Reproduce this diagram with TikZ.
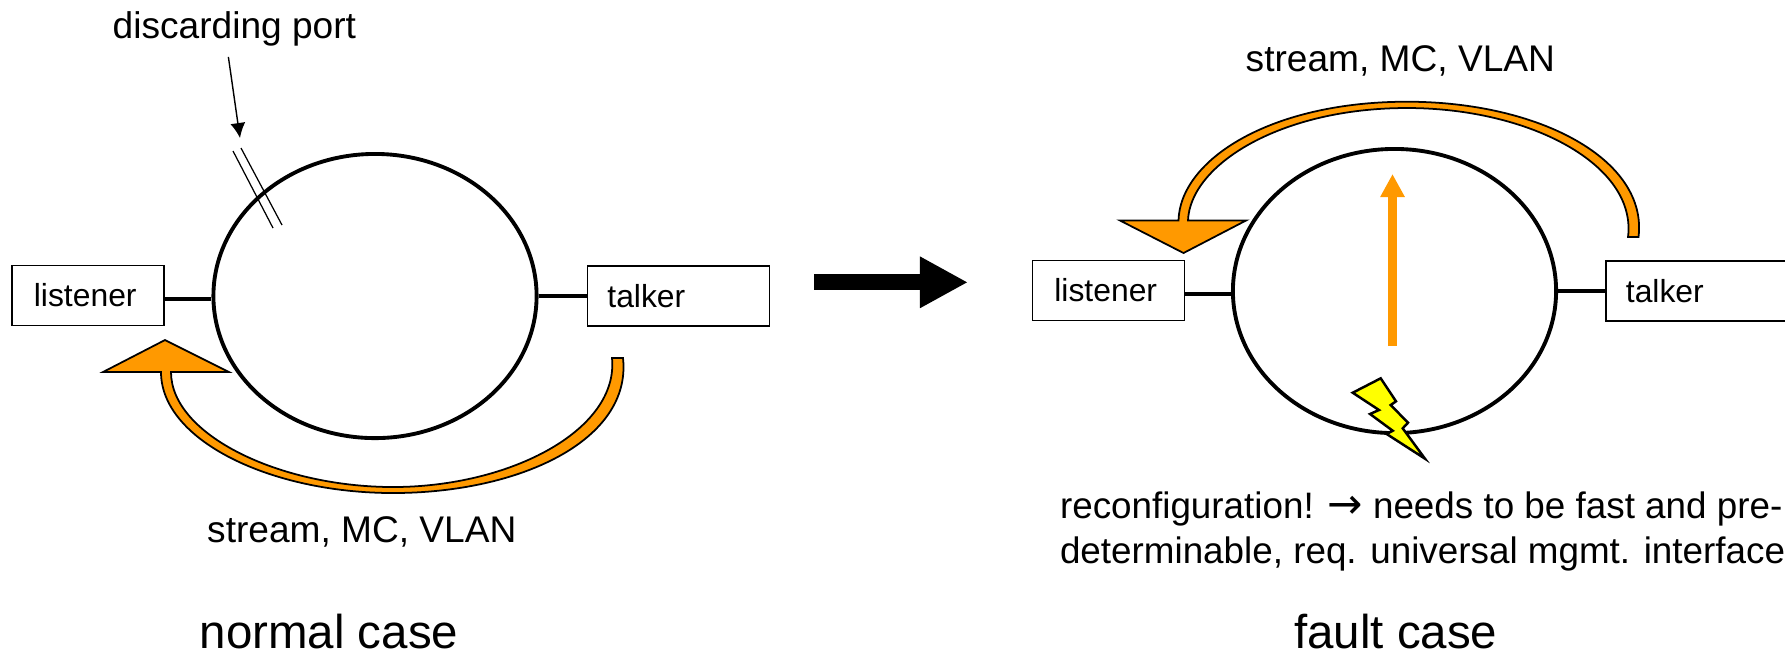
\documentclass[tikz,border=0pt]{standalone}
\usepackage{fontspec}
\setmainfont{Liberation Sans}
\newfontfamily\arrowfont{DejaVu Sans}
\usetikzlibrary{arrows.meta, shapes.geometric}

\definecolor{flow}{HTML}{FF9900}
\definecolor{bolt}{HTML}{FFFF00}

\tikzset{
    ring/.style = {draw, ellipse, line width = 1.1pt, minimum width = 3.23cm, minimum height = 2.84cm, inner sep = 0pt},
    endbox/.style = {draw, line width = .5pt, rectangle, align = left, font = \fontsize{9.06}{11}\selectfont, inner ysep = 0pt, minimum height = .6cm},
    listenerbox/.style = {endbox, text width = 1.08cm, inner xsep = .22cm},
    talkerbox/.style = {endbox, text width = 1.42cm, inner xsep = .2cm},
    label/.style = {anchor = base west, inner sep = 0pt, font = \fontsize{10.55}{12.76}\selectfont},
    title/.style = {anchor = base west, inner sep = 0pt, font = \fontsize{13.5}{16}\selectfont},
    link/.style = {line width = 1.1pt},
    flowband/.style = {draw, fill = flow, line width = .5pt, line join = miter},
}

\begin{document}
\begin{tikzpicture} [x = .01cm, y = -.01cm]
    \useasboundingbox (0,0) rectangle (1785,653);

    \node (ringA) [ring] at (375,296) {};
    \node (listenerA) [listenerbox, anchor = north west] at (11,264.5) {listener};
    \node (talkerA) [talkerbox, anchor = north west] at (586.5,265) {talker};
    \node (discard) [label] at (112,38.5) {discarding port};
    \node (streamA) [label] at (206.5,542) {stream, MC, VLAN};
    \node (normal) [title] at (199,648) {normal case};

    \coordinate (porthead) at (240,138);
    \path[-{Latex[length = .15cm, width = .15cm]}, line width = .4pt] ([shift = {(-6,10)}]discard.south) edge (porthead);
    \path[link] ([yshift = -.03cm]ringA.west) edge ([yshift = -.03cm]ringA.west -| listenerA.east);
    \path[link] (ringA.east) edge (ringA.east -| talkerA.west);

    \draw[line width = .35pt] (233,151) -- (273,228);
    \draw[line width = .35pt] (241,148) -- (282,225);

    \draw[flowband] (165,340) -- (229,372) -- (171,372)
        .. controls (171,435) and (280,487) .. (393,487)
        .. controls (510,487) and (619,430) .. (612,358) -- (623,358)
        .. controls (632,440) and (520,493) .. (393,493)
        .. controls (270,493) and (161,440) .. (161,372) -- (103,372) -- cycle;

    \coordinate (switchfrom) at (814.3,282.3);
    \coordinate (switchto) at (968,282.3);
    \draw[-{Triangle[length = .48cm, width = .48cm]}, line width = 4.5pt] (switchfrom) -- (switchto);

    \node (ringB) [ring] at (1394.5,291) {};
    \node (listenerB) [listenerbox, anchor = north west] at (1031.5,259.5) {listener};
    \node (talkerB) [talkerbox, anchor = north west] at (1605,260) {talker};
    \node (streamB) [label] at (1245,71) {stream, MC, VLAN};
    \node (reconf) [label, align = left, font = \fontsize{10.47}{12.76}\selectfont] at (1059.3,563.3) {reconfiguration! {\arrowfont\fontsize{12}{12.76}\selectfont →} needs to be fast and pre-\\determinable, req. universal mgmt. interface};
    \node (fault) [title] at (1293.5,648) {fault case};

    \path[link] ([yshift = -.03cm]ringB.west) edge ([yshift = -.03cm]ringB.west -| listenerB.east);
    \path[link] (ringB.east) edge (ringB.east -| talkerB.west);

    \draw[flowband] (1183.5,253) -- (1120,220.5) -- (1178.5,220.5)
        .. controls (1180,160) and (1270,101.7) .. (1407,101.7)
        .. controls (1540,101.7) and (1648,160) .. (1638.5,237) -- (1628,237)
        .. controls (1637,165) and (1530,108) .. (1407,108)
        .. controls (1280,108) and (1190,165) .. (1188,220.5) -- (1246,220.5) -- cycle;

    \coordinate (reroutefrom) at (1392.5,346);
    \coordinate (rerouteto) at (1392.5,174);
    \draw[-{Triangle[length = .23cm, width = .23cm]}, flow, line width = 2.3pt] (reroutefrom) -- (rerouteto);

    \draw[fill = bolt, line width = .7pt, line join = miter] (1380.7,378.3) -- (1352.7,392.7) -- (1379,410) -- (1370,414)
        -- (1392.7,430.7) -- (1386.7,434) -- (1425,458.7) -- (1402.7,428.3) -- (1408,422.7) -- (1390.7,405) -- (1396,401.3) -- cycle;
\end{tikzpicture}
\end{document}
